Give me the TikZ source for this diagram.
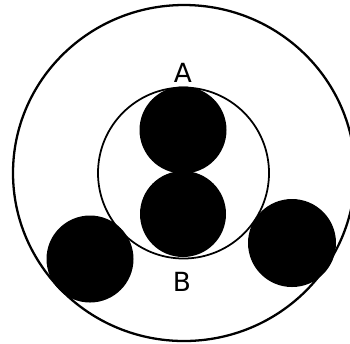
\documentclass[tikz,border=0pt]{standalone}
\usepackage{fontspec}
\setsansfont{DejaVu Sans}
\begin{document}
\begin{tikzpicture}[x=0.02cm, y=-0.02cm, every node/.style={font=\sffamily\fontsize{15}{15}\selectfont}]
                \useasboundingbox (0,0) rectangle (350,343);
                % Rings
                \begin{scope}
                \clip (0,0) rectangle (350,343);
                \draw[line width=1.3pt] (184,173) ellipse (171 and 168);
                \end{scope}
                \draw[line width=1pt] (183.5,173) circle (85.5);
                
                % Disks
                \fill[black] (183,130) circle (43.5);
                \fill[black] (183,214) circle (43);
                \fill[black] (90,259) circle (43.5);
                \fill[black] (292,243) circle (44);
                
                % Labels
                \node (labA) at (183,73) {A};
                \node (labB) at (182,282) {B};
            \end{tikzpicture}
\end{document}
